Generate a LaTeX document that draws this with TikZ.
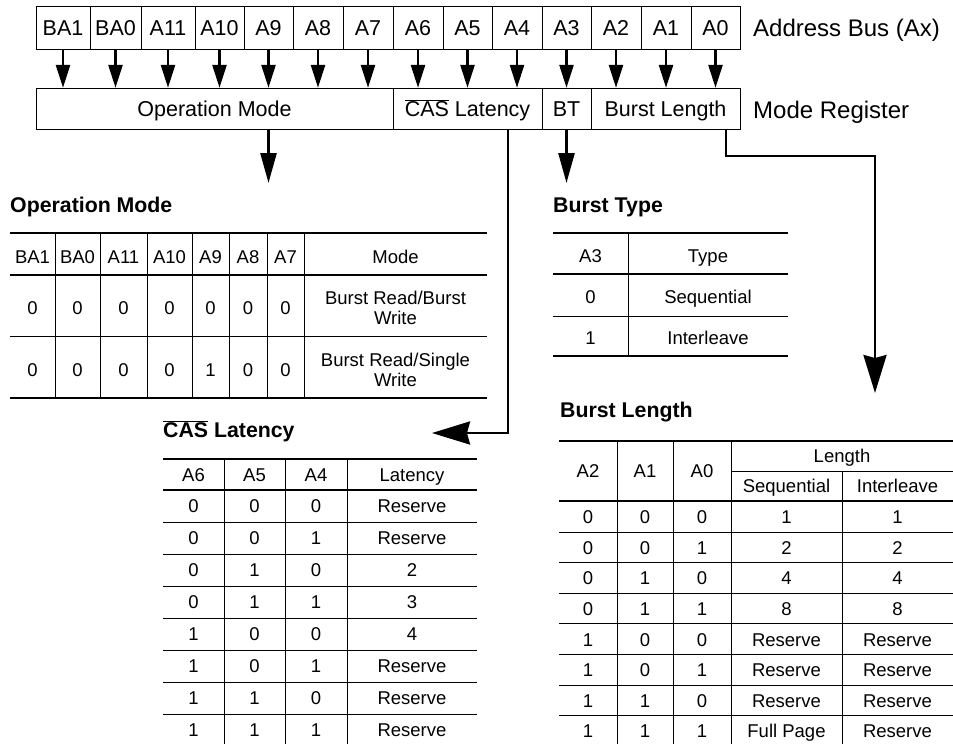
\documentclass[tikz,border=0pt]{standalone}
\usepackage{fontspec}
\setmainfont{Liberation Sans}
\usetikzlibrary{arrows.meta}
\tikzset{
	bus cell/.style={
		draw,
		line width=1pt,
		inner sep=0,
		minimum height=42.5pt,
		font=\fontsize{21.5}{24}\selectfont,
		text height=15.4pt,
		text depth=0pt },
	reg cell/.style={
		bus cell,
		minimum height=41pt },
	side label/.style={
		anchor=base west,
		inner sep=0,
		font=\fontsize{24}{28}\selectfont },
	table title/.style={
		anchor=base west,
		inner sep=0,
		font=\bfseries\fontsize{21.3}{24}\selectfont },
	table text/.style={
		inner sep=0,
		font=\fontsize{18.5}{20}\selectfont,
		text height=13.2pt,
		text depth=0pt },
	table text two/.style={
		inner sep=0,
		align=center,
		font=\fontsize{18.5}{20}\selectfont },
	thick rule/.style={line width=2.5pt},
	thin rule/.style={line width=1pt},
	small head/.style={line width=2.6pt, -{Triangle[length=23pt, width=14pt]}},
	mid head/.style={line width=2.6pt, -{Triangle[length=30pt, width=16pt]}},
	big head/.style={line width=2.6pt, -{Stealth[length=38pt, width=23pt, inset=3pt]}},
}
\newcommand{\casbar}{$\overline{\mbox{CAS}}$}

\begin{document}
\begin{tikzpicture}[x=1pt, y=-1pt]
	\useasboundingbox (0,0) rectangle (953,744);

		\foreach \n/\a/\b in {BA1/36/90, BA0/90/141, A11/141/195, A10/195/244, A9/244/293, A8/293/343, A7/343/393, A6/393/443, A5/443/492, A4/492/542, A3/542/591, A2/591/641, A1/641/691, A0/691/740}
		\node [bus cell, minimum width=\b pt-\a pt] (bus-\n) at ({(\a+\b)/2},28) {\n};

		\foreach \n/\t/\a/\b in {op/Operation Mode/36/393, cas/{\casbar{} Latency}/393/542, bt/BT/542/591, bl/Burst Length/591/740}
		\node [reg cell, minimum width=\b pt-\a pt] (reg-\n) at ({(\a+\b)/2},108.8) {\t};

		\node [side label] (bus-label) at (753,36.7) {Address Bus (Ax)};
		\node [side label] (reg-label) at (753,118.3) {Mode Register};

		\foreach \n/\g in {BA1/op, BA0/op, A11/op, A10/op, A9/op, A8/op, A7/op, A6/cas, A5/cas, A4/cas, A3/bt, A2/bl, A1/bl, A0/bl}
		\draw [small head] (bus-\n) -- (bus-\n |- reg-\g.north);

		\coordinate (op-tip) at (268.5,183);
		\coordinate (bt-tip) at (566.5,183);
		\coordinate (cas-tip) at (432,433);
		\coordinate (bl-tip) at (875,393);
		\draw [mid head] (reg-op.south -| op-tip) -- (op-tip);
		\draw [mid head] (reg-bt) -- (bt-tip);
		\draw [big head] ([xshift=40.5pt]reg-cas.south) |- (cas-tip);
		\draw [big head] ([xshift=60.5pt]reg-bl.south) -- ++(0,26) -| (bl-tip);

		% operation mode
		\node [table title] (op-title) at (10,212) {Operation Mode};
		\draw [thick rule] (10,233) -- (487,233) (10,275) -- (487,275) (10,398) -- (487,398);
		\draw [thin rule] (10,336) -- (487,336);
		\foreach \x in {55,100,147,192,229,267,304}
		\draw [thin rule] (\x,233) -- (\x,398);
		\foreach \h/\x [count=\i] in {BA1/32.5, BA0/77.5, A11/123.5, A10/169.5, A9/210.5, A8/248, A7/285.5, Mode/395.5}
		\node [table text] (op-h\i) at (\x,257) {\h};
		\foreach \x [count=\i] in {32.5, 77.5, 123.5, 169.5, 210.5, 248, 285.5}
		\node [table text] (op-a\i) at (\x,308) {0};
		\foreach \v/\x [count=\i] in {0/32.5, 0/77.5, 0/123.5, 0/169.5, 1/210.5, 0/248, 0/285.5}
		\node [table text] (op-b\i) at (\x,370) {\v};
		\node [table text two] (op-m1) at (395.5,308) {Burst Read/Burst\\Write};
		\node [table text two] (op-m2) at (395.5,370) {Burst Read/Single\\Write};

		% burst type
		\node [table title] (bt-title) at (553,212) {Burst Type};
		\draw [thick rule] (553,233) -- (788,233) (553,274) -- (788,274) (553,356) -- (788,356);
		\draw [thin rule] (553,316) -- (788,316) (628,233) -- (628,356);
		\foreach \a/\t/\y [count=\i] in {A3/Type/256, 0/Sequential/297, 1/Interleave/338} {
			\node [table text] (bt-a\i) at (590.5,\y) {\a};
			\node [table text] (bt-t\i) at (708,\y) {\t};
		}

		% cas latency
		\node [table title] (cas-title) at (163,437) {\casbar{} Latency};
		\draw [thick rule] (163,459) -- (477,459) (163,490) -- (477,490);
		\foreach \k in {0,...,6}
		\draw [thin rule] (163,522+32*\k) -- (477,522+32*\k);
		\foreach \x in {224,285,347}
		\draw [thin rule] (\x,459) -- (\x,744);
		\foreach \h/\x [count=\i] in {A6/193.5, A5/254.5, A4/316, Latency/412}
		\node [table text] (cas-h\i) at (\x,475) {\h};
		\foreach \a/\b/\c/\l [count=\i, evaluate=\i as \y using 474+32*\i] in {0/0/0/Reserve, 0/0/1/Reserve, 0/1/0/2, 0/1/1/3, 1/0/0/4, 1/0/1/Reserve, 1/1/0/Reserve, 1/1/1/Reserve} {
			\node [table text] (cas-\i-a) at (193.5,\y) {\a};
			\node [table text] (cas-\i-b) at (254.5,\y) {\b};
			\node [table text] (cas-\i-c) at (316,\y) {\c};
			\node [table text] (cas-\i-l) at (412,\y) {\l};
		}

		% burst length
		\node [table title] (bl-title) at (560,417) {Burst Length};
		\draw [thick rule] (559,441) -- (953,441) (559,501) -- (953,501);
		\draw [thin rule] (731,471) -- (953,471);
		\foreach \k in {0,...,6}
		\draw [thin rule] (559,532+30.6*\k) -- (953,532+30.6*\k);
		\foreach \x in {617,673,731}
		\draw [thin rule] (\x,441) -- (\x,744);
		\draw [thin rule] (842,471) -- (842,744);
		\foreach \h/\x [count=\i] in {A2/588, A1/645, A0/702}
		\node [table text] (bl-h\i) at (\x,471) {\h};
		\node [table text] (bl-len) at (842,456) {Length};
		\node [table text] (bl-seq) at (786.5,486) {Sequential};
		\node [table text] (bl-int) at (897.5,486) {Interleave};
		\foreach \a/\b/\c/\s/\t [count=\i, evaluate=\i as \y using 486.4+30.6*\i] in {0/0/0/1/1, 0/0/1/2/2, 0/1/0/4/4, 0/1/1/8/8, 1/0/0/Reserve/Reserve, 1/0/1/Reserve/Reserve, 1/1/0/Reserve/Reserve, 1/1/1/Full Page/Reserve} {
			\node [table text] (bl-\i-a) at (588,\y) {\a};
			\node [table text] (bl-\i-b) at (645,\y) {\b};
			\node [table text] (bl-\i-c) at (702,\y) {\c};
			\node [table text] (bl-\i-s) at (786.5,\y) {\s};
			\node [table text] (bl-\i-t) at (897.5,\y) {\t};
		}
	\end{tikzpicture}
\end{document}
